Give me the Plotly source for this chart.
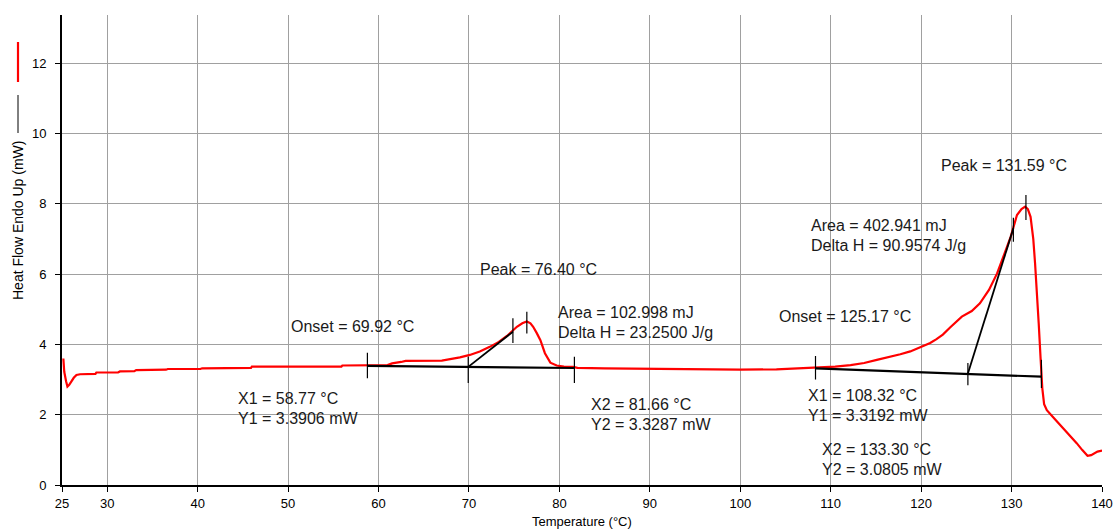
import plotly.graph_objects as go

# ---------------- data ----------------
temperature = [25.15, 25.25, 25.45, 25.6, 25.8, 26.0, 26.3, 26.6, 27.0, 28.7, 28.8, 31.2, 31.4,
               33.0, 33.2, 36.5, 36.7, 40.3, 40.5, 45.9, 46.0, 55.9, 56.0, 61.0, 61.5, 62.5, 63.0,
               67.0, 68.0, 69.0, 70.1, 71.2, 72.3, 73.3, 74.2, 75.3, 75.9, 76.4, 76.8, 77.1, 77.5,
               77.9, 78.4, 79.0, 79.7, 80.5, 81.5, 82.0, 85.0, 90.0, 95.0, 100.0, 104.0, 108.5,
               110.5, 112.2, 113.7, 115.1, 116.5, 117.7, 118.8, 120.3, 121.0, 121.7, 122.4, 123.2,
               124.5, 125.6, 126.5, 127.5, 128.4, 129.1, 129.9, 130.6, 131.1, 131.5, 131.8, 132.1,
               132.4, 132.6, 132.8, 133.0, 133.2, 133.4, 133.6, 133.9, 134.7, 135.4, 136.1, 137.2,
               137.8, 138.4, 138.8, 139.5, 140.0]
heat_flow = [3.60, 3.22, 2.95, 2.80, 2.85, 2.94, 3.05, 3.13, 3.15, 3.16, 3.20, 3.20, 3.23,
             3.24, 3.27, 3.28, 3.30, 3.30, 3.32, 3.33, 3.37, 3.37, 3.40, 3.41, 3.46, 3.50, 3.53,
             3.54, 3.58, 3.63, 3.70, 3.80, 3.93, 4.07, 4.24, 4.50, 4.60, 4.65, 4.60, 4.50, 4.32,
             4.12, 3.75, 3.48, 3.40, 3.37, 3.36, 3.33, 3.32, 3.30, 3.29, 3.28, 3.29, 3.34,
             3.37, 3.41, 3.47, 3.56, 3.64, 3.72, 3.80, 3.95, 4.04, 4.15, 4.28, 4.48,
             4.79, 4.95, 5.17, 5.55, 6.02, 6.50, 7.06, 7.68, 7.85, 7.92, 7.85, 7.63,
             7.00, 6.30, 5.55, 4.60, 3.65, 2.75, 2.30, 2.13, 1.90, 1.70, 1.52, 1.19,
             1.00, 0.83, 0.85, 0.95, 0.98]

# baselines (X1,Y1) -> (X2,Y2)
baseline1_x = [58.77, 81.66]
baseline1_y = [3.3906, 3.3287]
baseline2_x = [108.32, 133.30]
baseline2_y = [3.3192, 3.0805]

# onset tangent lines
tangent1_x = [69.92, 74.86]
tangent1_y = [3.36, 4.36]
tangent2_x = [125.17, 130.20]
tangent2_y = [3.17, 7.30]

# vertical marker ticks: x, y low, y high
marker_x = [58.77, 69.92, 74.86, 76.40, 81.66, 108.32, 125.17, 130.20, 131.59, 133.30]
marker_lo = [3.04, 2.90, 4.04, 4.31, 2.90, 3.00, 2.84, 6.92, 7.54, 2.76]
marker_hi = [3.76, 3.65, 4.74, 4.93, 3.65, 3.67, 3.47, 7.60, 8.25, 3.56]

# annotation texts: (x, y, text)
label_x = [71.0, 50.1, 79.65, 79.65, 44.2, 44.2, 83.3, 83.3,
           122.0, 107.6, 107.6, 104.1, 107.3, 107.3, 108.85, 108.85]
label_y = [6.12, 4.52, 4.92, 4.35, 2.45, 1.88, 2.28, 1.71,
           9.10, 7.37, 6.80, 4.78, 2.56, 1.99, 1.00, 0.43]
label_text = ["Peak = 76.40 °C", "Onset = 69.92 °C", "Area = 102.998 mJ", "Delta H = 23.2500 J/g",
              "X1 = 58.77 °C", "Y1 = 3.3906 mW", "X2 = 81.66 °C", "Y2 = 3.3287 mW",
              "Peak = 131.59 °C", "Area = 402.941 mJ", "Delta H = 90.9574 J/g", "Onset = 125.17 °C",
              "X1 = 108.32 °C", "Y1 = 3.3192 mW", "X2 = 133.30 °C", "Y2 = 3.0805 mW"]

x_ticks = [25, 30, 40, 50, 60, 70, 80, 90, 100, 110, 120, 130, 140]
y_ticks = [0, 2, 4, 6, 8, 10, 12]

# ---------------- figure ----------------
FONT = "Liberation Sans, Arial, sans-serif"
W, H = 1114, 530
L, R, T, B = 62, 12, 15, 45

fig = go.Figure()

mx, my = [], []
for x, lo, hi in zip(marker_x, marker_lo, marker_hi):
    mx += [x, x, None]
    my += [lo, hi, None]

fig.add_trace(go.Scatter(x=temperature, y=heat_flow, mode="lines",
                         line=dict(color="#ff0000", width=2.2), hoverinfo="skip"))
for bx, by in [(baseline1_x, baseline1_y), (baseline2_x, baseline2_y)]:
    fig.add_trace(go.Scatter(x=bx, y=by, mode="lines", line=dict(color="black", width=2.2),
                             hoverinfo="skip"))
for tx, ty in [(tangent1_x, tangent1_y), (tangent2_x, tangent2_y)]:
    fig.add_trace(go.Scatter(x=tx, y=ty, mode="lines", line=dict(color="black", width=1.8),
                             hoverinfo="skip"))
fig.add_trace(go.Scatter(x=mx, y=my, mode="lines", line=dict(color="black", width=1.2),
                         hoverinfo="skip"))

annotations = []
for x, y, t in zip(label_x, label_y, label_text):
    annotations.append(dict(x=x, y=y, xref="x", yref="y", text=t, showarrow=False,
                            xanchor="left", yanchor="middle",
                            font=dict(family=FONT, size=16, color="#1a1a1a")))

pw = W - L - R
ph = H - T - B
def px2paper_x(px):
    return (px - L) / pw
def py2paper_y(py):
    return (H - B - py) / ph

annotations.append(dict(x=0.5, y=py2paper_y(521), xref="paper", yref="paper",
                        text="Temperature (°C)", showarrow=False, xanchor="center",
                        yanchor="middle", font=dict(family=FONT, size=13, color="black")))
annotations.append(dict(x=px2paper_x(18), y=py2paper_y(221), xref="paper", yref="paper",
                        text="Heat Flow Endo Up (mW)", textangle=-90, showarrow=False,
                        xanchor="center", yanchor="middle",
                        font=dict(family=FONT, size=14, color="black")))

shapes = [
    dict(type="line", xref="paper", yref="paper", x0=px2paper_x(18), x1=px2paper_x(18),
         y0=py2paper_y(42), y1=py2paper_y(82), line=dict(color="#ff0000", width=2.2)),
    dict(type="line", xref="paper", yref="paper", x0=px2paper_x(18), x1=px2paper_x(18),
         y0=py2paper_y(95), y1=py2paper_y(133), line=dict(color="black", width=1)),
]

fig.update_layout(
    width=W, height=H,
    margin=dict(l=L, r=R, t=T, b=B, autoexpand=False),
    paper_bgcolor="white", plot_bgcolor="white",
    showlegend=False,
    annotations=annotations,
    shapes=shapes,
    font=dict(family=FONT, size=13, color="black"),
    xaxis=dict(range=[25, 140], tickvals=x_ticks, ticktext=[str(v) for v in x_ticks],
               showgrid=True, gridcolor="#a0a0a0", gridwidth=1, automargin=False,
               showline=True, linecolor="black", linewidth=2,
               ticks="outside", ticklen=5, tickcolor="black", tickwidth=1,
               zeroline=False, tickfont=dict(family=FONT, size=13, color="black")),
    yaxis=dict(range=[0, 13.37], tickvals=y_ticks, ticktext=[str(v) for v in y_ticks],
               showgrid=True, gridcolor="#a0a0a0", gridwidth=1, automargin=False,
               showline=True, linecolor="black", linewidth=2,
               ticks="outside", ticklen=5, tickcolor="black", tickwidth=1,
               zeroline=False, tickfont=dict(family=FONT, size=13, color="black"),
               ticklabelstandoff=6),
)

fig.write_html("out.html")
